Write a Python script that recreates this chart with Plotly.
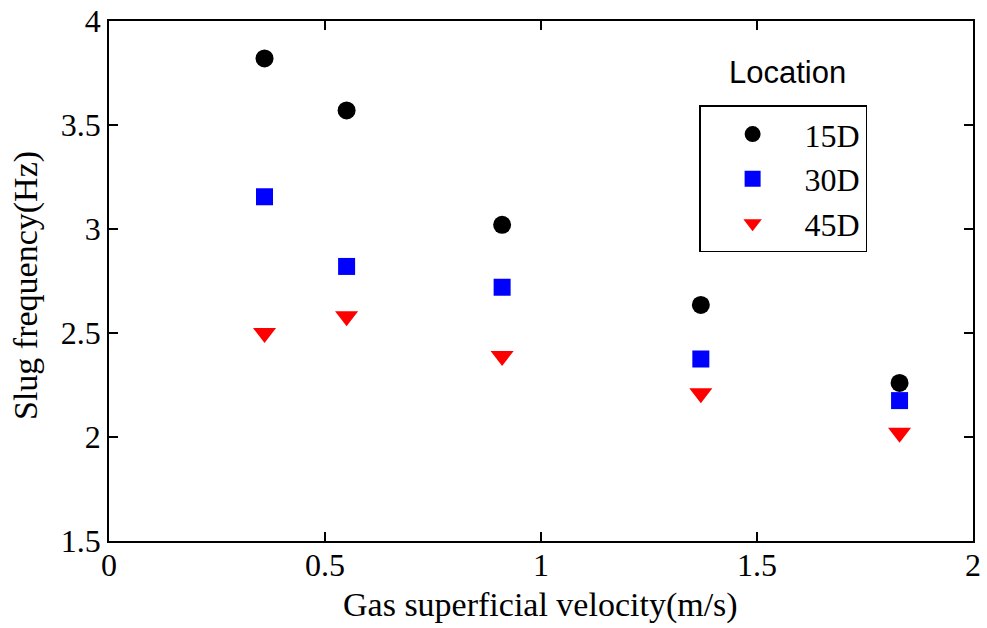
import plotly.graph_objects as go

# Data
gas_velocity = [0.36, 0.55, 0.91, 1.37, 1.83]
freq_15D = [3.82, 3.57, 3.02, 2.635, 2.26]
freq_30D = [3.155, 2.82, 2.72, 2.375, 2.175]
freq_45D = [2.50, 2.58, 2.39, 2.21, 2.02]
series_names = ["15D", "30D", "45D"]
x_ticks = [0, 0.5, 1, 1.5, 2]
x_ticktext = ["0", "0.5", "1", "1.5", "2"]
y_ticks = [1.5, 2, 2.5, 3, 3.5, 4]
y_ticktext = ["1.5", "2", "2.5", "3", "3.5", "4"]

SERIF = "Liberation Serif"
SANS = "Liberation Sans"

fig = go.Figure()
fig.add_trace(go.Scatter(x=gas_velocity, y=freq_15D, mode="markers", name=series_names[0],
                         marker=dict(symbol="circle", size=18, color="black")))
fig.add_trace(go.Scatter(x=gas_velocity, y=freq_30D, mode="markers", name=series_names[1],
                         marker=dict(symbol="square", size=17, color="#0000ff")))
fig.add_trace(go.Scatter(x=gas_velocity, y=freq_45D, mode="markers", name=series_names[2],
                         marker=dict(symbol="triangle-down", size=20, color="#ff0000")))

axis_common = dict(
    showline=True, linecolor="black", linewidth=1.5, mirror="ticks",
    ticks="inside", ticklen=9, tickwidth=1.5, tickcolor="black",
    showgrid=False, zeroline=False, automargin=False,
    tickfont=dict(family=SERIF, size=32, color="black"),
)

plot_l, plot_r, plot_t, plot_b = 109, 987 - 14, 21, 628 - 87
pw, ph = plot_r - plot_l, plot_b - plot_t

fig.update_layout(
    template="none",
    width=987, height=628,
    margin=dict(l=109, r=14, t=21, b=87),
    paper_bgcolor="white", plot_bgcolor="white",
    showlegend=True,
    xaxis=dict(range=[0, 2], tickvals=x_ticks, ticktext=x_ticktext,
               ticklabelstandoff=-5, **axis_common),
    yaxis=dict(range=[1.5, 4], tickvals=y_ticks, ticktext=y_ticktext, **axis_common),
    legend=dict(x=0.683, y=0.838, xanchor="left", yanchor="top",
                bordercolor="black", borderwidth=1.5, bgcolor="white",
                font=dict(family=SERIF, size=32, color="black"),
                itemwidth=94),
    annotations=[
        dict(text="Location", x=(787 - plot_l) / pw, y=(plot_b - 72) / ph,
             xref="paper", yref="paper",
             showarrow=False, xanchor="center", yanchor="middle",
             font=dict(family=SANS, size=31, color="black")),
        dict(text="Gas superficial velocity(m/s)", x=(540 - plot_l) / pw, y=(plot_b - 605) / ph,
             xref="paper", yref="paper",
             showarrow=False, xanchor="center", yanchor="middle",
             font=dict(family=SERIF, size=34, color="black")),
        dict(text="Slug frequency(Hz)", x=(26 - plot_l) / pw, y=(plot_b - 286) / ph,
             xref="paper", yref="paper",
             showarrow=False, xanchor="center", yanchor="middle", textangle=-90,
             font=dict(family=SERIF, size=34, color="black")),
    ],
)

fig.write_html("out.html")
